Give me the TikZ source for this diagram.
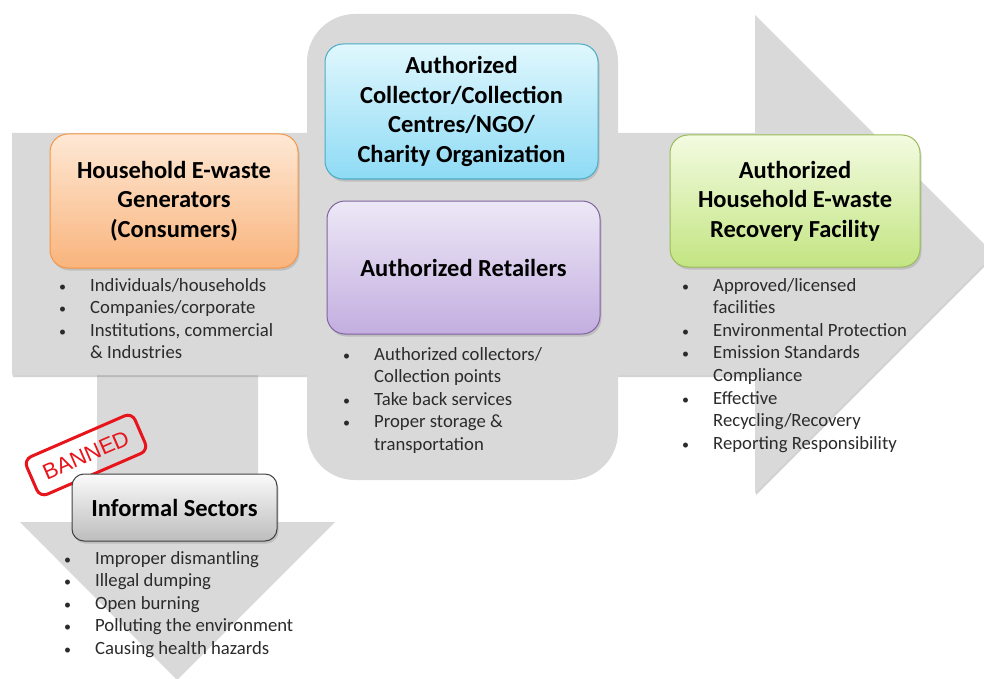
\documentclass[tikz,border=0pt]{standalone}
\usepackage{fontspec}
\setmainfont{Carlito}
\newfontfamily\stampfont{Liberation Sans}
\usetikzlibrary{shadows}

\definecolor{arrowgray}{HTML}{D9D9D9}
\definecolor{listgray}{HTML}{2B2B2B}
\definecolor{stampred}{HTML}{E8141B}
\definecolor{orangetop}{HTML}{FEE8D5}
\definecolor{orangebot}{HTML}{F9B47C}
\definecolor{orangeline}{HTML}{F79646}
\definecolor{cyantop}{HTML}{E0F7FD}
\definecolor{cyanbot}{HTML}{8EDBF5}
\definecolor{cyanline}{HTML}{4BACC6}
\definecolor{purpletop}{HTML}{EDE8F6}
\definecolor{purplebot}{HTML}{C3AEE0}
\definecolor{purpleline}{HTML}{8064A2}
\definecolor{greentop}{HTML}{F3FBE1}
\definecolor{greenbot}{HTML}{C3E582}
\definecolor{greenline}{HTML}{9BBB59}
\definecolor{graytop}{HTML}{FAFAFA}
\definecolor{graybot}{HTML}{BDBDBD}
\definecolor{grayline}{HTML}{404040}

\tikzset{
  stagebox/.style={rounded corners=18pt, line width=1pt, align=center, inner sep=0pt,
    font=\bfseries\fontsize{24.5}{29.5}\selectfont,
    drop shadow={shadow xshift=1.5pt, shadow yshift=-2.5pt, opacity=.3}},
  bullets/.style={anchor=north west, align=left, inner sep=0pt, text=listgray,
    font=\fontsize{18.7}{22.6}\selectfont},
  stamp/.style={draw=stampred, text=stampred, line width=3pt, rounded corners=8pt,
    minimum width=118pt, minimum height=41pt, inner sep=0pt,
    font=\stampfont\fontsize{22}{22}\selectfont},
}
\newcommand{\itm}{\makebox[31pt][l]{\scalebox{.75}{\textbullet}}}
\newcommand{\cnt}{\hspace*{31pt}}

\begin{document}
\begin{tikzpicture}[x=1pt,y=-1pt]
  \clip (0,0) rectangle (984,679);

  % background arrows
  \fill[arrowgray] (97,300) -- (258,300) -- (258,522) -- (335,522) -- (177,680)
    -- (20,522) -- (97,522) -- cycle;
  \fill[arrowgray, drop shadow={shadow xshift=1pt, shadow yshift=-2pt, opacity=.35}]
    (12,133) -- (755,133) -- (755,15) -- (994,254) -- (755,493) -- (755,375)
    -- (12,375) -- cycle;
  \fill[arrowgray, rounded corners=48pt] (307,14) rectangle (618,480);

  % stages
  \node[stagebox, minimum width=248pt, minimum height=134pt, draw=orangeline,
    top color=orangetop, bottom color=orangebot] (gen) at (174,201)
    {Household E-waste\\Generators\\(Consumers)};
  \node[stagebox, minimum width=273pt, minimum height=135pt, draw=cyanline,
    top color=cyantop, bottom color=cyanbot] (coll) at (461.5,111.5)
    {Authorized\\Collector/Collection\\Centres/NGO/\\Charity Organization};
  \node[stagebox, minimum width=273pt, minimum height=133pt, draw=purpleline,
    top color=purpletop, bottom color=purplebot] (retail) at (463.5,267.5)
    {Authorized Retailers};
  \node[stagebox, minimum width=250pt, minimum height=132pt, draw=greenline,
    top color=greentop, bottom color=greenbot] (recov) at (795,201)
    {Authorized\\Household E-waste\\Recovery Facility};

  \node[stamp, rotate=23.5] (banned) at (86,455) {BANNED};
  \node[stagebox, rounded corners=12pt, minimum width=205pt, minimum height=67pt,
    draw=grayline, top color=graytop, bottom color=graybot] (informal) at (174.5,507.5)
    {Informal Sectors};

  % bullet lists
  \node[bullets] (genlist) at (59,278)
    {\itm Individuals/households\\ \itm Companies/corporate\\
     \itm Institutions, commercial\\ \cnt \& Industries};
  \node[bullets] (retaillist) at (343,347)
    {\itm Authorized collectors/\\ \cnt Collection points\\ \itm Take back services\\
     \itm Proper storage \&\\ \cnt transportation};
  \node[bullets] (recovlist) at (682,278)
    {\itm Approved/licensed\\ \cnt facilities\\ \itm Environmental Protection\\
     \itm Emission Standards\\ \cnt Compliance\\ \itm Effective\\
     \cnt Recycling/Recovery\\ \itm Reporting Responsibility};
  \node[bullets] (informallist) at (64,551)
    {\itm Improper dismantling\\ \itm Illegal dumping\\ \itm Open burning\\
     \itm Polluting the environment\\ \itm Causing health hazards};
\end{tikzpicture}
\end{document}
